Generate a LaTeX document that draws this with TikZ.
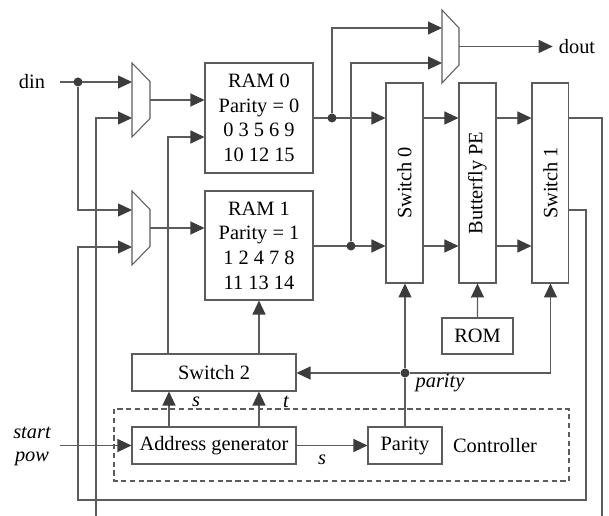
\documentclass[tikz,border=0pt]{standalone}
\usepackage{fontspec}
\setmainfont{Liberation Serif}
\usetikzlibrary{positioning,arrows.meta}
\definecolor{linegray}{HTML}{5C5C5C}
\definecolor{tipgray}{HTML}{3C3C3C}
\tikzset{block/.style={draw=linegray, fill=white, line width=0.6pt, inner sep=0pt, align=center, font=\fontsize{11.6}{14}\selectfont},
tallblock/.style={block, minimum width=0.74cm, minimum height=4cm},
wire/.style={draw=linegray, line width=0.6pt},
arr/.style={wire, -{Triangle[length=0.28cm, width=0.26cm, color=tipgray]}},
joint/.style={circle, fill=tipgray, inner sep=0pt, minimum size=0.18cm},
lbl/.style={font=\fontsize{11.6}{14}\selectfont},
sig/.style={font=\fontsize{11.6}{14}\selectfont\itshape},}

\begin{document}
\begin{tikzpicture}[x=0.02cm, y=-0.02cm, node distance=1.46cm]
\useasboundingbox (0,0) rectangle (609,516);
% controller frame
\draw[draw=linegray, line width=0.6pt, dash pattern=on 3pt off 2pt] (114,409) rectangle (569,481);
\node[lbl] (ctrl) at (495,446) {Controller};

% memories and datapath
\node[block, minimum width=2.16cm, minimum height=2.2cm] (ram0) at (259,118) {RAM 0\\Parity = 0\\0 3 5 6 9\\10 12 15};
\node[block, minimum width=2.16cm, minimum height=2.18cm] (ram1) at (259,245.5) {RAM 1\\Parity = 1\\1 2 4 7 8\\11 13 14};
\node[tallblock] (sw0) at (404.5,183) {\rotatebox{90}{Switch 0}};
\node[tallblock] (bfly) [right of=sw0] {\rotatebox{90}{Butterfly PE}};
\node[tallblock] (sw1) [right of=bfly] {\rotatebox{90}{Switch 1}};
\node[block, minimum width=1.42cm, minimum height=0.72cm] (rom) at (477.5,336) {ROM};
\node[block, minimum width=3.28cm, minimum height=0.74cm] (sw2) at (214,372.5) {Switch 2};
\node[block, minimum width=3.28cm, minimum height=0.74cm] (addr) at (214,445.5) {Address generator};
\node[block, minimum width=1.48cm, minimum height=0.74cm] (par) at (405,445.5) {Parity};

% multiplexers
\draw[wire] (132,63) -- (150,81.5) -- (150,118.5) -- (132,137) -- cycle;
\draw[wire] (132,191) -- (150,209.5) -- (150,246.5) -- (132,265) -- cycle;
\draw[wire] (442,10) -- (459,28) -- (459,65) -- (442,83) -- cycle;
\coordinate (m0a) at (132,82);
\coordinate (m0b) at (132,118);
\coordinate (m0o) at (150,100);
\coordinate (m1a) at (132,210);
\coordinate (m1b) at (132,247);
\coordinate (m1o) at (150,228);
\coordinate (u0) at (442,28);
\coordinate (u1) at (442,63);
\coordinate (uo) at (459,46.5);

% rows of the datapath
\coordinate (r0) at (0,118);
\coordinate (r1) at (0,246);

% inputs and outputs
\node[lbl] (din) at (32,82) {din};
\node[sig] (start) at (32,433) {start};
\node[sig] (pow) at (32,459) {pow};
\node[lbl] (dout) at (577,46.5) {dout};
\coordinate (dinin) at (60,82);
\coordinate (startin) at (60,445.5);
\coordinate (fbin) at (96,516);
\coordinate (fbout) at (602,516);

\draw[arr] (dinin) -- (m0a);
\node[joint] (j0) at (78,82) {};
\draw[arr] (j0) |- (m1a);
\draw[arr] (fbin) |- (m0b);
\draw[arr] (m0o) -- (m0o -| ram0.west);
\draw[arr] (m1o) -- (m1o -| ram1.west);
\draw[arr] (uo) -- (dout.west);

% RAM outputs
\draw[arr] (ram0.east |- r0) -- (sw0.west |- r0);
\draw[arr] (ram1.east |- r1) -- (sw0.west |- r1);
\node[joint] (j1) at (332,118) {};
\node[joint] (j2) at (351,246) {};
\draw[arr] (j1) |- (u0);
\draw[arr] (j2) |- (u1);
\foreach \a/\b in {sw0/bfly, bfly/sw1} {
  \draw[arr] (\a.east |- r0) -- (\b.west |- r0);
  \draw[arr] (\a.east |- r1) -- (\b.west |- r1);
}
\draw[arr] (rom) -- (bfly);

% feedback from switch 1
\draw[wire] (sw1.east |- r0) -| (fbout);
\draw[arr] (sw1.east |- 0,210) -| (586,500) -| (78,247) -- (m1b);

% switch 2 to the RAMs
\draw[arr] (sw2.north -| 168,0) |- (ram0.west |- 0,137);
\draw[arr] (sw2.north -| ram1.south) -- (ram1.south);

% controller
\draw[arr] (startin) -- (addr.west);
\draw[arr] (addr.north -| 169,0) -- (sw2.south -| 169,0);
\draw[arr] (addr.north -| 259,0) -- (sw2.south -| 259,0);
\node[sig] (ls) at (196,402) {s};
\node[sig] (lt) at (286,402) {t};
\draw[arr] (addr) -- (par);
\node[sig] (ls2) at (322,460) {s};
\node[joint] (j3) at (405,373) {};
\draw[wire] (par.north) -- (j3);
\draw[arr] (j3) -- (j3 |- sw0.south);
\draw[arr] (j3) -- (j3 -| sw2.east);
\draw[arr] (j3) -| (sw1.south);
\node[sig] (lpar) at (440,383) {parity};
\end{tikzpicture}
\end{document}
